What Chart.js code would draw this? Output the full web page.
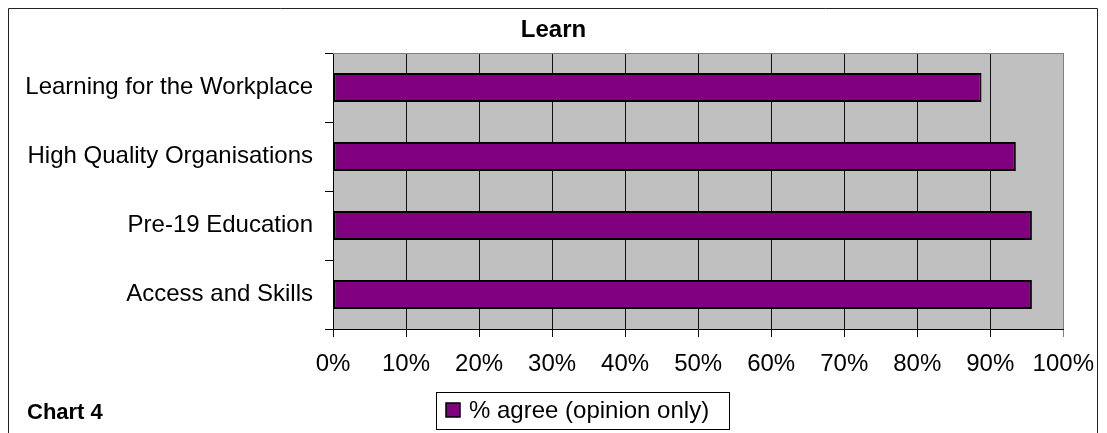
<!DOCTYPE html>
<html>
<head>
<meta charset="utf-8">
<script src="https://cdn.jsdelivr.net/npm/chart.js@4"></script>
<style>
  html, body { margin: 0; padding: 0; background: #fff; }
  #wrap { position: relative; width: 1107px; height: 433px; }
  canvas { display: block; }
</style>
</head>
<body>
<div id="wrap"><canvas id="c" width="1107" height="433"></canvas></div>
<script>
const categories = ["Learning for the Workplace", "High Quality Organisations", "Pre-19 Education", "Access and Skills"];
const agreeValues = [88.8, 93.5, 95.7, 95.7];
const seriesLabel = "% agree (opinion only)";
const chartTitle = "Learn";
const chartNote = "Chart 4";
const tickValues = [0, 10, 20, 30, 40, 50, 60, 70, 80, 90, 100];

const FONT = "'Liberation Sans', Arial, sans-serif";

const decor = {
  id: 'decor',
  beforeDraw(chart) {
    const ctx = chart.ctx, a = chart.chartArea;
    ctx.save();
    ctx.fillStyle = '#fff';
    ctx.fillRect(0, 0, chart.width, chart.height);
    ctx.fillStyle = '#C0C0C0';
    ctx.fillRect(a.left, a.top, a.right - a.left, a.bottom - a.top);
    ctx.restore();
  },
  beforeDatasetsDraw(chart) {
    const ctx = chart.ctx, a = chart.chartArea;
    ctx.save();
    ctx.strokeStyle = '#808080';
    ctx.lineWidth = 1;
    ctx.beginPath();
    ctx.moveTo(a.left, a.top + 0.5);
    ctx.lineTo(a.right, a.top + 0.5);
    ctx.stroke();
    ctx.restore();
  },
  afterDraw(chart) {
    const ctx = chart.ctx;
    ctx.save();
    // outer frame
    ctx.strokeStyle = '#222';
    ctx.lineWidth = 1;
    ctx.beginPath();
    ctx.moveTo(8.5, chart.height + 2);
    ctx.lineTo(8.5, 8.5);
    ctx.lineTo(1097.5, 8.5);
    ctx.lineTo(1097.5, chart.height + 2);
    ctx.stroke();
    // title
    ctx.fillStyle = '#000';
    ctx.textBaseline = 'alphabetic';
    ctx.textAlign = 'center';
    ctx.font = 'bold 24px ' + FONT;
    ctx.fillText(chartTitle, 553.5, 37);
    // note
    ctx.textAlign = 'left';
    ctx.font = 'bold 22px ' + FONT;
    ctx.fillText(chartNote, 27, 419);
    // legend
    const ds = chart.data.datasets[0];
    ctx.strokeStyle = '#000';
    ctx.lineWidth = 1;
    ctx.strokeRect(436.5, 392.5, 293, 37);
    ctx.fillStyle = ds.backgroundColor;
    ctx.fillRect(446, 403, 14, 14);
    ctx.lineWidth = 1.5;
    ctx.strokeRect(446, 403, 14, 14);
    ctx.fillStyle = '#000';
    ctx.font = '24px ' + FONT;
    ctx.textBaseline = 'middle';
    ctx.fillText(ds.label, 469, 411);
    ctx.restore();
  }
};

new Chart(document.getElementById('c'), {
  type: 'bar',
  data: {
    labels: categories,
    datasets: [{
      label: seriesLabel,
      data: agreeValues,
      backgroundColor: '#800080',
      borderColor: '#000',
      borderWidth: 2,
      borderSkipped: false,
      barPercentage: 1.0,
      categoryPercentage: 0.42
    }]
  },
  options: {
    indexAxis: 'y',
    responsive: false,
    animation: false,
    devicePixelRatio: 1,
    layout: { padding: { left: 0, right: 43, top: 53, bottom: 0 } },
    plugins: {
      legend: { display: false },
      tooltip: { enabled: false },
      title: { display: false }
    },
    scales: {
      x: {
        type: 'linear',
        min: 0,
        max: 100,
        afterBuildTicks(scale) { scale.ticks = tickValues.map(v => ({ value: v })); },
        afterFit(scale) { scale.height = 104; },
        ticks: {
          color: '#000',
          font: { family: FONT, size: 24 },
          padding: 13,
          maxRotation: 0,
          autoSkip: false,
          callback: v => v + '%'
        },
        grid: {
          drawOnChartArea: true,
          drawTicks: true,
          tickLength: 8,
          color: ctx => (ctx.tick && ctx.tick.value === 100) ? '#808080' : '#111',
          lineWidth: 1
        },
        border: { display: true, color: '#000', width: 1 }
      },
      y: {
        afterFit(scale) { scale.width = 333; },
        ticks: {
          color: '#000',
          font: { family: FONT, size: 24 },
          padding: 12,
          crossAlign: 'near'
        },
        grid: {
          offset: true,
          drawOnChartArea: false,
          drawTicks: true,
          tickLength: 8,
          color: '#000'
        },
        border: { display: true, color: '#000', width: 1 }
      }
    }
  },
  plugins: [decor]
});
</script>
</body>
</html>
